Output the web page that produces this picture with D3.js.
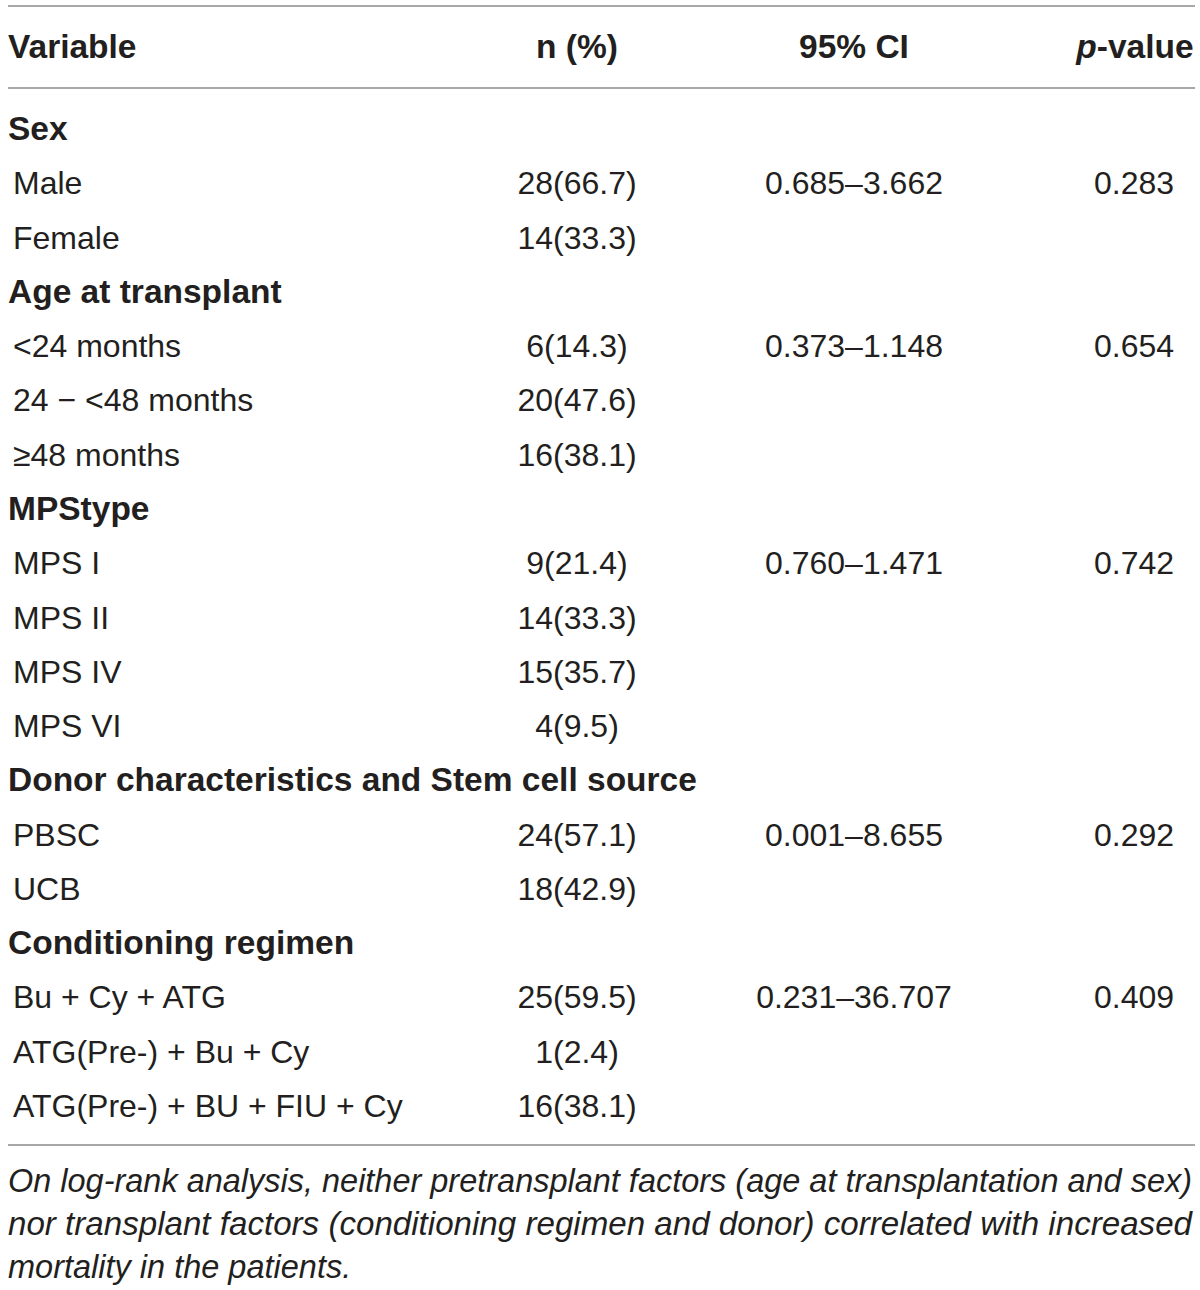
<!DOCTYPE html>
<html><head><meta charset="utf-8">
<script src="https://cdn.jsdelivr.net/npm/d3@7"></script>
<style>body{margin:0;background:#fff;} svg{display:block;font-family:"Liberation Sans",Arial,sans-serif;}</style>
</head><body>
<script>
const headers = ["Variable", "n (%)", "95% CI", "p-value"];
const variables = ["Sex","Male","Female","Age at transplant","<24 months","24 \u2212 <48 months","\u226548 months","MPStype","MPS I","MPS II","MPS IV","MPS VI","Donor characteristics and Stem cell source","PBSC","UCB","Conditioning regimen","Bu + Cy + ATG","ATG(Pre-) + Bu + Cy","ATG(Pre-) + BU + FIU + Cy"];
const isGroup = [1,0,0,1,0,0,0,1,0,0,0,0,1,0,0,1,0,0,0];
const nPct = ["","28(66.7)","14(33.3)","","6(14.3)","20(47.6)","16(38.1)","","9(21.4)","14(33.3)","15(35.7)","4(9.5)","","24(57.1)","18(42.9)","","25(59.5)","1(2.4)","16(38.1)"];
const ci = ["","0.685\u20133.662","","","0.373\u20131.148","","","","0.760\u20131.471","","","","","0.001\u20138.655","","","0.231\u201336.707","",""];
const pval = ["","0.283","","","0.654","","","","0.742","","","","","0.292","","","0.409","",""];
const footnote = ["On log-rank analysis, neither pretransplant factors (age at transplantation and sex)","nor transplant factors (conditioning regimen and donor) correlated with increased","mortality in the patients."];

const W=1200,H=1290, color="#231f20", lineColor="#a8a8a8";
const svg=d3.select("body").append("svg").attr("width",W).attr("height",H);
const y=d3.scaleLinear().domain([0,variables.length-1]).range([140,1117]);
const colX=d3.scaleOrdinal().domain([1,2,3]).range([577,854,1134]);
const fs=32, fsBold=33.5;

// rules
[6,88,1145].forEach(v=>svg.append("line").attr("x1",8).attr("x2",1195).attr("y1",v).attr("y2",v).attr("stroke",lineColor).attr("stroke-width",2));

// header
const hg=svg.append("g").attr("font-weight","bold").attr("font-size",fsBold).attr("fill",color);
hg.append("text").attr("x",8).attr("y",58).text(headers[0]);
hg.append("text").attr("x",colX(1)).attr("y",58).attr("text-anchor","middle").text(headers[1]);
hg.append("text").attr("x",colX(2)).attr("y",58).attr("text-anchor","middle").text(headers[2]);
const pt=hg.append("text").attr("x",1135).attr("y",58).attr("text-anchor","middle");
pt.append("tspan").attr("font-style","italic").text("p");
pt.append("tspan").text("-value");

// rows
const rows=svg.append("g").attr("font-size",fs).attr("fill",color)
  .selectAll("g").data(variables.map((v,i)=>({v,i,g:isGroup[i],n:nPct[i],c:ci[i],p:pval[i]}))).join("g");
rows.append("text").attr("x",d=>d.g?8:13).attr("y",d=>y(d.i))
  .attr("font-weight",d=>d.g?"bold":"normal").attr("font-size",d=>d.g?fsBold:fs).text(d=>d.v);
rows.append("text").attr("x",colX(1)).attr("y",d=>y(d.i)).attr("text-anchor","middle").text(d=>d.n);
rows.append("text").attr("x",colX(2)).attr("y",d=>y(d.i)).attr("text-anchor","middle").text(d=>d.c);
rows.append("text").attr("x",colX(3)).attr("y",d=>y(d.i)).attr("text-anchor","middle").text(d=>d.p);

// footnote
svg.append("g").attr("font-size",32.5).attr("font-style","italic").attr("fill",color)
  .selectAll("text").data(footnote).join("text")
  .attr("x",8).attr("y",(d,i)=>1192+i*43)
  .each(function(d,i){ if(i<2) d3.select(this).attr("textLength",1184).attr("lengthAdjust","spacingAndGlyphs"); })
  .text(d=>d);
</script>
</body></html>
